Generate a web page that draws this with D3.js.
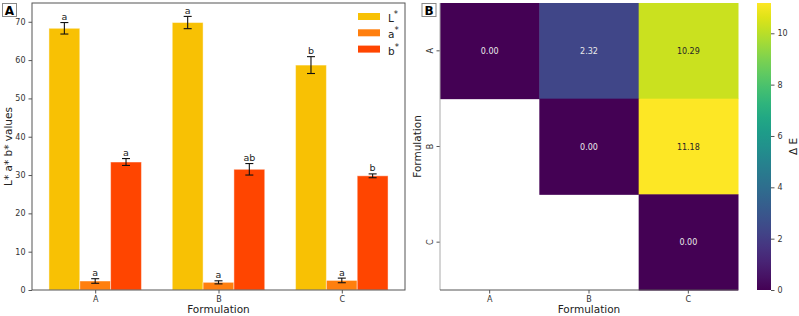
<!DOCTYPE html>
<html>
<head>
<meta charset="utf-8">
<script src="https://cdn.jsdelivr.net/npm/d3@7"></script>
<style>
  body { margin: 0; background: #fff; }
  svg { font-family: "DejaVu Sans", sans-serif; display: block; }
</style>
</head>
<body>
<svg id="chart" width="799" height="316"></svg>
<script>
// panel A data: colour values per formulation
var formulations = ["A", "B", "C"];
var seriesNames = ["L", "a", "b"];
var seriesColors = ["#f8c104", "#ff7f0e", "#ff4500"];
var lValues = [68.3, 69.8, 58.7];
var lErrors = [1.5, 1.6, 2.2];
var aValues = [2.35, 2.0, 2.5];
var aErrors = [0.6, 0.4, 0.6];
var bValues = [33.4, 31.5, 29.8];
var bErrors = [0.9, 1.5, 0.5];
var lLetters = ["a", "a", "b"];
var aLetters = ["a", "a", "a"];
var bLetters = ["a", "ab", "b"];
var yTicksA = [0, 10, 20, 30, 40, 50, 60, 70];

// panel B data: delta E matrix (upper triangle only)
var deltaE = [
  [0.00, 2.32, 10.29],
  [null, 0.00, 11.18],
  [null, null, 0.00]
];
var cbTicks = [0, 2, 4, 6, 8, 10];

var svg = d3.select("#chart");
var tickColor = "#333";
var spineColor = "#555";
var tickFont = 8;
var labelFont = 10.5;

// ---------- panel A ----------
var ax = { left: 32, right: 405, top: 3, bottom: 290 };
var x = d3.scaleLinear().domain([-0.5125, 2.5125]).range([ax.left, ax.right]);
var y = d3.scaleLinear().domain([0, 74.9]).range([ax.bottom, ax.top]);
var barW = 0.25;

var series = [
  { name: seriesNames[0], values: lValues, errors: lErrors, letters: lLetters, color: seriesColors[0], off: -0.25 },
  { name: seriesNames[1], values: aValues, errors: aErrors, letters: aLetters, color: seriesColors[1], off: 0 },
  { name: seriesNames[2], values: bValues, errors: bErrors, letters: bLetters, color: seriesColors[2], off: 0.25 }
];

var gA = svg.append("g");

series.forEach(function(s) {
  var rows = formulations.map(function(f, i) {
    return { i: i, v: s.values[i], e: s.errors[i], t: s.letters[i] };
  });
  // bars
  gA.selectAll(null).data(rows).enter().append("rect")
    .attr("x", function(d) { return x(d.i + s.off - barW / 2); })
    .attr("width", x(barW) - x(0))
    .attr("y", function(d) { return y(d.v); })
    .attr("height", function(d) { return y(0) - y(d.v); })
    .attr("fill", s.color)
    .attr("stroke", "#fff")
    .attr("stroke-opacity", 0.45)
    .attr("stroke-width", 1);
  // error bars
  var eb = gA.selectAll(null).data(rows).enter().append("g")
    .attr("stroke", "#111").attr("stroke-width", 1.1);
  eb.append("line")
    .attr("x1", function(d) { return x(d.i + s.off); })
    .attr("x2", function(d) { return x(d.i + s.off); })
    .attr("y1", function(d) { return y(d.v - d.e); })
    .attr("y2", function(d) { return y(d.v + d.e); });
  [-1, 1].forEach(function(sg) {
    eb.append("line")
      .attr("x1", function(d) { return x(d.i + s.off) - 4; })
      .attr("x2", function(d) { return x(d.i + s.off) + 4; })
      .attr("y1", function(d) { return y(d.v + sg * d.e); })
      .attr("y2", function(d) { return y(d.v + sg * d.e); });
  });
  // significance letters
  gA.selectAll(null).data(rows).enter().append("text")
    .attr("x", function(d) { return x(d.i + s.off); })
    .attr("y", function(d) { return y(d.v + d.e) - 2.5; })
    .attr("text-anchor", "middle")
    .attr("font-size", 9.5)
    .attr("fill", "#222")
    .text(function(d) { return d.t; });
});

// frame
gA.append("rect")
  .attr("x", ax.left).attr("y", ax.top)
  .attr("width", ax.right - ax.left).attr("height", ax.bottom - ax.top)
  .attr("fill", "none").attr("stroke", spineColor).attr("stroke-width", 1);

var yAxisA = gA.append("g")
  .attr("transform", "translate(" + ax.left + ",0)")
  .call(d3.axisLeft(y).tickValues(yTicksA).tickSize(3.5).tickPadding(3));
var xAxisA = gA.append("g")
  .attr("transform", "translate(0," + ax.bottom + ")")
  .call(d3.axisBottom(x).tickValues([0, 1, 2]).tickFormat(function(d) { return formulations[d]; }).tickSize(3.5).tickPadding(3));
[yAxisA, xAxisA].forEach(function(a) {
  a.select(".domain").remove();
  a.selectAll(".tick line").attr("stroke", spineColor);
  a.selectAll(".tick text").attr("fill", tickColor).attr("font-size", tickFont).attr("font-family", "DejaVu Sans, sans-serif");
});

gA.append("text")
  .attr("transform", "translate(12," + ((ax.top + ax.bottom) / 2) + ") rotate(-90)")
  .attr("text-anchor", "middle")
  .attr("font-size", labelFont).attr("fill", "#222")
  .text("L* a* b* values");
gA.append("text")
  .attr("x", (ax.left + ax.right) / 2).attr("y", 313)
  .attr("text-anchor", "middle")
  .attr("font-size", labelFont).attr("fill", "#222")
  .text("Formulation");

// legend
var leg = gA.append("g").attr("transform", "translate(358,11)");
series.forEach(function(s, i) {
  var r = leg.append("g").attr("transform", "translate(0," + (i * 16.3) + ")");
  r.append("rect").attr("x", 0).attr("y", 2).attr("width", 22).attr("height", 7).attr("fill", s.color);
  var t = r.append("text").attr("x", 30).attr("y", 11).attr("font-size", labelFont).attr("fill", "#222");
  t.append("tspan").text(s.name);
  t.append("tspan").attr("dy", -5).attr("font-size", 8.5).text("*");
});

// panel letter A
gA.append("rect").attr("x", 2.5).attr("y", 3.5).attr("width", 14).attr("height", 13)
  .attr("fill", "#fff").attr("stroke", "#888");
gA.append("text").attr("x", 9.5).attr("y", 14.5).attr("text-anchor", "middle")
  .attr("font-size", 12).attr("font-weight", "bold").text("A");

// ---------- panel B ----------
var bx = { left: 440, right: 738, top: 3, bottom: 290 };
var hx = d3.scaleBand().domain(formulations).range([bx.left, bx.right]);
var hy = d3.scaleBand().domain(formulations).range([bx.top, bx.bottom]);
var maxE = d3.max(deltaE, function(r) { return d3.max(r); });
var color = d3.scaleSequential(d3.interpolateViridis).domain([0, maxE]);

var cells = [];
deltaE.forEach(function(row, i) {
  row.forEach(function(v, j) {
    if (v !== null) cells.push({ r: formulations[i], c: formulations[j], v: v });
  });
});

var gB = svg.append("g");
gB.selectAll(null).data(cells).enter().append("rect")
  .attr("x", function(d) { return hx(d.c); })
  .attr("y", function(d) { return hy(d.r); })
  .attr("width", hx.bandwidth() + 0.5)
  .attr("height", hy.bandwidth() + 0.5)
  .attr("fill", function(d) { return color(d.v); });
gB.selectAll(null).data(cells).enter().append("text")
  .attr("x", function(d) { return hx(d.c) + hx.bandwidth() / 2; })
  .attr("y", function(d) { return hy(d.r) + hy.bandwidth() / 2 + 3; })
  .attr("text-anchor", "middle")
  .attr("font-size", 8)
  .attr("fill", function(d) { return d.v / maxE > 0.5 ? "#262626" : "#eaeaea"; })
  .text(function(d) { return d.v.toFixed(2); });

var xAxisB = gB.append("g")
  .attr("transform", "translate(0," + bx.bottom + ")")
  .call(d3.axisBottom(hx).tickSize(3.5).tickPadding(3));
var yAxisB = gB.append("g")
  .attr("transform", "translate(" + bx.left + ",0)")
  .call(d3.axisLeft(hy).tickSize(3.5).tickPadding(3));
[xAxisB, yAxisB].forEach(function(a) {
  a.select(".domain").remove();
  a.selectAll(".tick line").attr("stroke", spineColor);
  a.selectAll(".tick text").attr("fill", tickColor).attr("font-size", tickFont).attr("font-family", "DejaVu Sans, sans-serif");
});
yAxisB.selectAll(".tick text")
  .attr("text-anchor", "middle")
  .attr("dy", "0.32em")
  .attr("transform", "translate(-9.5,0) rotate(-90)")
  .attr("x", 0);
// spines left and bottom
gB.append("line").attr("x1", bx.left).attr("x2", bx.left).attr("y1", bx.top).attr("y2", bx.bottom)
  .attr("stroke", "#aaa").attr("stroke-width", 1);
gB.append("line").attr("x1", bx.left).attr("x2", bx.right).attr("y1", bx.bottom).attr("y2", bx.bottom)
  .attr("stroke", spineColor).attr("stroke-width", 1);

gB.append("text")
  .attr("x", (bx.left + bx.right) / 2).attr("y", 313)
  .attr("text-anchor", "middle")
  .attr("font-size", labelFont).attr("fill", "#222")
  .text("Formulation");
gB.append("text")
  .attr("transform", "translate(421," + ((bx.top + bx.bottom) / 2) + ") rotate(-90)")
  .attr("text-anchor", "middle")
  .attr("font-size", labelFont).attr("fill", "#222")
  .text("Formulation");

// colorbar
var cb = { left: 757, width: 14 };
var cy = d3.scaleLinear().domain([0, maxE]).range([bx.bottom, bx.top]);
var defs = svg.append("defs");
var grad = defs.append("linearGradient").attr("id", "cbgrad")
  .attr("x1", 0).attr("x2", 0).attr("y1", 1).attr("y2", 0);
d3.range(0, 1.0001, 0.05).forEach(function(t) {
  grad.append("stop").attr("offset", t).attr("stop-color", d3.interpolateViridis(t));
});
gB.append("rect").attr("x", cb.left).attr("y", bx.top)
  .attr("width", cb.width).attr("height", bx.bottom - bx.top)
  .attr("fill", "url(#cbgrad)");
var cbAxis = gB.append("g")
  .attr("transform", "translate(" + (cb.left + cb.width) + ",0)")
  .call(d3.axisRight(cy).tickValues(cbTicks).tickSize(3.5).tickPadding(3));
cbAxis.select(".domain").remove();
cbAxis.selectAll(".tick line").attr("stroke", spineColor);
cbAxis.selectAll(".tick text").attr("fill", tickColor).attr("font-size", tickFont).attr("font-family", "DejaVu Sans, sans-serif");
gB.append("text")
  .attr("transform", "translate(797," + ((bx.top + bx.bottom) / 2) + ") rotate(-90)")
  .attr("text-anchor", "middle")
  .attr("font-size", labelFont).attr("fill", "#222")
  .text("\u0394 E");

// panel letter B
gB.append("rect").attr("x", 422).attr("y", 3.5).attr("width", 14).attr("height", 13)
  .attr("fill", "#fff").attr("stroke", "#888");
gB.append("text").attr("x", 429).attr("y", 14.5).attr("text-anchor", "middle")
  .attr("font-size", 12).attr("font-weight", "bold").text("B");
</script>
</body>
</html>
